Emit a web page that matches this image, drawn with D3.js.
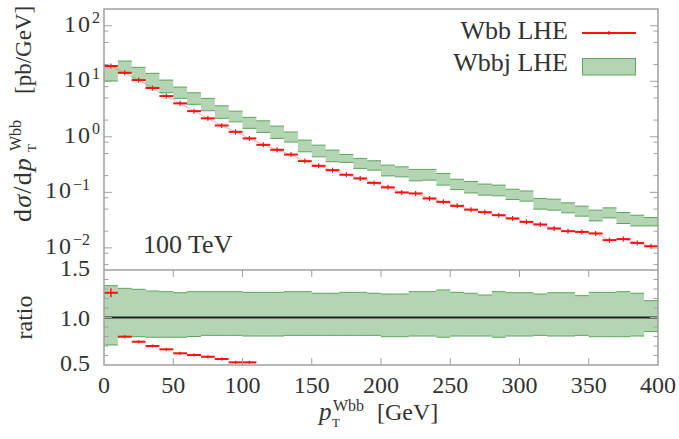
<!DOCTYPE html>
<html>
<head>
<meta charset="utf-8">
<script src="https://cdn.jsdelivr.net/npm/d3@7"></script>
<style>
  body { margin: 0; background: #fff; }
  text { font-family: "Liberation Serif", "DejaVu Serif", "Times New Roman", Times, serif; fill: #333; }
</style>
</head>
<body>
<svg id="chart" width="679" height="439"></svg>
<script>
// bins of 10 GeV (lower edge)
const binLow = [0, 10, 20, 30, 40, 50, 60, 70, 80, 90, 100, 110, 120, 130, 140, 150, 160, 170, 180, 190,
  200, 210, 220, 230, 240, 250, 260, 270, 280, 290, 300, 310, 320, 330, 340, 350, 360, 370, 380, 390];
const binWidth = 10;

// Wbb LHE, dsigma/dpT [pb/GeV]
const wbb = [18.8, 14.2, 10.5, 7.54, 5.41, 4.0, 2.90, 2.15, 1.60, 1.23, 0.936, 0.717, 0.583, 0.478,
  0.365, 0.300, 0.251, 0.207, 0.178, 0.148, 0.123, 0.0996, 0.0955, 0.0776, 0.0674, 0.0571, 0.0488,
  0.0440, 0.0388, 0.0339, 0.0294, 0.0264, 0.0224, 0.0200, 0.0194, 0.0182, 0.0138, 0.0144, 0.0123, 0.0107];

// Wbbj LHE band (upper / lower edge)
const wbbjUp = [19.2, 23.1, 17.8, 13.9, 10.5, 7.86, 6.21, 4.92, 3.62, 2.90, 2.24, 1.94, 1.56, 1.22,
  0.872, 0.708, 0.576, 0.482, 0.408, 0.370, 0.309, 0.288, 0.259, 0.259, 0.219, 0.172, 0.157, 0.141,
  0.135, 0.114, 0.106, 0.0776, 0.0754, 0.0647, 0.0564, 0.0478, 0.0526, 0.0434, 0.0388, 0.0353];
const wbbjLo = [10.1, 14.1, 10.5, 7.64, 6.21, 4.92, 3.84, 2.94, 2.15, 1.86, 1.42, 1.20, 0.936, 0.803,
  0.537, 0.436, 0.355, 0.346, 0.270, 0.251, 0.198, 0.190, 0.161, 0.166, 0.135, 0.112, 0.0975, 0.0891,
  0.0865, 0.0745, 0.0694, 0.0498, 0.0478, 0.0428, 0.0373, 0.0306, 0.0347, 0.0275, 0.0249, 0.0249];

// ratio panel: Wbbj band relative to its central value
const ratioUp = [1.335, 1.307, 1.297, 1.279, 1.272, 1.261, 1.272, 1.272, 1.272, 1.272, 1.265, 1.265,
  1.265, 1.272, 1.272, 1.255, 1.255, 1.265, 1.265, 1.255, 1.247, 1.247, 1.272, 1.272, 1.290, 1.265,
  1.255, 1.237, 1.272, 1.261, 1.261, 1.247, 1.261, 1.261, 1.230, 1.265, 1.265, 1.272, 1.255, 1.177];
const ratioLo = [0.711, 0.798, 0.798, 0.792, 0.792, 0.792, 0.800, 0.812, 0.812, 0.812, 0.805, 0.805,
  0.805, 0.812, 0.812, 0.812, 0.812, 0.812, 0.812, 0.812, 0.798, 0.798, 0.805, 0.805, 0.792, 0.805,
  0.805, 0.805, 0.792, 0.805, 0.805, 0.812, 0.805, 0.805, 0.812, 0.798, 0.798, 0.798, 0.805, 0.851];
// Wbb / Wbbj (only bins inside the panel range)
const ratioWbb = [1.26, 0.798, 0.745, 0.700, 0.665, 0.623, 0.605, 0.587, 0.563, 0.528, 0.528];
const ratioWbbErr = [0.047, 0.016, 0.016, 0.016, 0.016, 0.016, 0.016, 0.016, 0.016, 0.016, 0.016];

const xTicks = [0, 50, 100, 150, 200, 250, 300, 350, 400];
const yMajor = [1e-2, 1e-1, 1, 10, 100];
const yExp = ["\u22122", "\u22121", "0", "1", "2"];
const ratioTicks = [0.5, 1.0, 1.5];
const ratioTickLabels = ["0.5", "1.0", "1.5"];

const RED = "#ff1010";
const FILL = "#b3d5b3";
const EDGE = "#5ea45e";
const FRAME = "#a0a0a0";

const m = { left: 104, right: 658, top: 9, split: 270, bottom: 365 };

const svg = d3.select("#chart");

const x = d3.scaleLinear().domain([0, 400]).range([m.left, m.right]);
const y = d3.scaleLog().domain([4e-3, 200]).range([m.split, m.top]);
const yr = d3.scaleLinear().domain([0.5, 1.5]).range([m.bottom, m.split]);

const bins = binLow.map((lo, i) => ({ lo, hi: lo + binWidth, i }));
// extra closing point so step paths reach the last bin's upper edge
const stepPts = bins.concat([{ lo: binLow[binLow.length - 1] + binWidth, i: bins.length - 1 }]);

const defs = svg.append("defs");
defs.append("clipPath").attr("id", "clipMain").append("rect")
  .attr("x", m.left).attr("y", m.top).attr("width", m.right - m.left).attr("height", m.split - m.top);
defs.append("clipPath").attr("id", "clipRatio").append("rect")
  .attr("x", m.left).attr("y", m.split).attr("width", m.right - m.left).attr("height", m.bottom - m.split);

function band(g, scale, up, lo) {
  g.append("path")
    .datum(stepPts)
    .attr("fill", FILL)
    .attr("d", d3.area().curve(d3.curveStepAfter)
      .x(d => x(d.lo)).y0(d => scale(lo[d.i])).y1(d => scale(up[d.i])));
  const e = g.append("g").attr("stroke", EDGE).attr("stroke-width", 1);
  [up, lo].forEach(arr => {
    e.append("g").selectAll("line")
      .data(bins)
      .join("line")
      .attr("x1", d => x(d.lo)).attr("x2", d => x(d.hi))
      .attr("y1", d => scale(arr[d.i])).attr("y2", d => scale(arr[d.i]));
  });
}

// ---------- main panel ----------
const main = svg.append("g").attr("clip-path", "url(#clipMain)");
band(main, y, wbbjUp, wbbjLo);

// faint line through the Wbb points
main.append("path")
  .datum(bins)
  .attr("fill", "none")
  .attr("stroke", RED)
  .attr("stroke-opacity", 0.35)
  .attr("stroke-width", 1)
  .attr("d", d3.line().x(d => x(d.lo + binWidth / 2)).y(d => y(wbb[d.i])));

const redMain = main.append("g").attr("stroke", RED);
redMain.selectAll("line.h")
  .data(bins)
  .join("line")
  .attr("class", "h")
  .attr("stroke-width", 2)
  .attr("x1", d => x(d.lo)).attr("x2", d => x(d.hi))
  .attr("y1", d => y(wbb[d.i])).attr("y2", d => y(wbb[d.i]));
redMain.selectAll("line.v")
  .data(bins)
  .join("line")
  .attr("class", "v")
  .attr("stroke-width", 1.2)
  .attr("x1", d => x(d.lo + binWidth / 2)).attr("x2", d => x(d.lo + binWidth / 2))
  .attr("y1", d => y(wbb[d.i]) - 2.5).attr("y2", d => y(wbb[d.i]) + 2.5);

// ---------- ratio panel ----------
const ratio = svg.append("g").attr("clip-path", "url(#clipRatio)");
band(ratio, yr, ratioUp, ratioLo);

ratio.append("line")
  .attr("x1", x(0)).attr("x2", x(400))
  .attr("y1", yr(1)).attr("y2", yr(1))
  .attr("stroke", "#222").attr("stroke-width", 1.8);

const rBins = bins.slice(0, ratioWbb.length);
const redRatio = ratio.append("g").attr("stroke", RED);
redRatio.selectAll("line.h")
  .data(rBins)
  .join("line")
  .attr("class", "h")
  .attr("stroke-width", 2)
  .attr("x1", d => x(d.lo)).attr("x2", d => x(d.hi))
  .attr("y1", d => yr(ratioWbb[d.i])).attr("y2", d => yr(ratioWbb[d.i]));
redRatio.selectAll("line.v")
  .data(rBins)
  .join("line")
  .attr("class", "v")
  .attr("stroke-width", 1.4)
  .attr("x1", d => x(d.lo + binWidth / 2)).attr("x2", d => x(d.lo + binWidth / 2))
  .attr("y1", d => yr(ratioWbb[d.i] + ratioWbbErr[d.i]))
  .attr("y2", d => yr(ratioWbb[d.i] - ratioWbbErr[d.i]));

// ---------- frames and ticks ----------
const axes = svg.append("g").attr("stroke", FRAME).attr("fill", "none");
axes.append("rect")
  .attr("x", m.left).attr("y", m.top)
  .attr("width", m.right - m.left).attr("height", m.bottom - m.top)
  .attr("stroke-width", 1.5);
axes.append("line")
  .attr("x1", m.left).attr("x2", m.right).attr("y1", m.split).attr("y2", m.split)
  .attr("stroke-width", 1.5);

// log minor ticks at 2, 5, 8 x 10^k
const yMinor = y.ticks().filter(v => {
  const lead = Math.round(v / Math.pow(10, Math.floor(Math.log10(v) + 1e-9)));
  return lead === 2 || lead === 5 || lead === 8;
}).filter(v => y(v) > m.top + 1 && y(v) < m.split - 1);

function yTickMarks(g, scale, values, len) {
  values.forEach(v => {
    g.append("line").attr("x1", m.left).attr("x2", m.left + len)
      .attr("y1", scale(v)).attr("y2", scale(v));
    g.append("line").attr("x1", m.right).attr("x2", m.right - len)
      .attr("y1", scale(v)).attr("y2", scale(v));
  });
}
const tickG = axes.append("g").attr("stroke-width", 1);
yTickMarks(tickG, y, yMajor, 8);
yTickMarks(tickG, y, yMinor, 4.5);
yTickMarks(tickG, yr, ratioTicks.filter(v => v > 0.5 && v < 1.5), 8);
yTickMarks(tickG, yr, d3.range(6, 15).map(v => v / 10).filter(v => v !== 1), 4.5);

xTicks.slice(1, -1).forEach(v => {
  tickG.append("line").attr("x1", x(v)).attr("x2", x(v)).attr("y1", m.bottom).attr("y2", m.bottom - 7);
  tickG.append("line").attr("x1", x(v)).attr("x2", x(v)).attr("y1", m.split).attr("y2", m.split + 7);
});

// ---------- tick labels ----------
const yl = svg.append("g");
yMajor.forEach((v, i) => {
  const neg = yExp[i].startsWith("\u2212");
  const t = yl.append("text")
    .attr("x", neg ? 90 : 100).attr("y", y(v) + 6)
    .attr("text-anchor", "end")
    .attr("font-size", 24);
  t.append("tspan").attr("letter-spacing", 2).text("10");
  t.append("tspan").attr("font-size", 16).attr("dy", -8.5).text(yExp[i]);
});
ratioTicks.forEach((v, i) => {
  yl.append("text")
    .attr("x", 90).attr("y", yr(v) + 8 - (v === 1.5 ? 2 : v === 0.5 ? 2 : 0))
    .attr("text-anchor", "end")
    .attr("font-size", 24)
    .text(ratioTickLabels[i]);
});
xTicks.forEach(v => {
  yl.append("text")
    .attr("x", x(v)).attr("y", 393)
    .attr("text-anchor", "middle")
    .attr("font-size", 24)
    .text(v);
});

// ---------- axis titles ----------
const xt = svg.append("g");
xt.append("text").attr("x", 319).attr("y", 420).attr("font-size", 25)
  .attr("font-style", "italic").text("p");
xt.append("text").attr("x", 333).attr("y", 411).attr("font-size", 16).text("Wbb");
xt.append("text").attr("x", 332).attr("y", 427).attr("font-size", 13).text("T");
xt.append("text").attr("x", 377).attr("y", 420).attr("font-size", 24).text("[GeV]");

const yt = svg.append("g").attr("transform", "translate(31,224) rotate(-90)");
const dt = yt.append("text").attr("x", 2).attr("y", 0).attr("font-size", 26)
  .attr("letter-spacing", 1.2);
dt.append("tspan").text("d");
dt.append("tspan").attr("font-style", "italic").text("\u03c3");
dt.append("tspan").text("/d");
dt.append("tspan").attr("font-style", "italic").text("p");
yt.append("text").attr("x", 73).attr("y", -10).attr("font-size", 16).text("Wbb");
yt.append("text").attr("x", 72).attr("y", 5).attr("font-size", 13).text("T");
yt.append("text").attr("x", 130).attr("y", 0).attr("font-size", 23).text("[pb/GeV]");

svg.append("text")
  .attr("transform", `translate(32,${yr(1)}) rotate(-90)`)
  .attr("text-anchor", "middle")
  .attr("font-size", 24)
  .text("ratio");

svg.append("text").attr("x", 143).attr("y", 253).attr("font-size", 26)
  .text("100 TeV");

// ---------- legend ----------
const legend = svg.append("g");
legend.append("text").attr("x", 568).attr("y", 38.5).attr("text-anchor", "end")
  .attr("font-size", 26).text("Wbb LHE");
legend.append("line").attr("x1", 582).attr("x2", 636).attr("y1", 33).attr("y2", 33)
  .attr("stroke", RED).attr("stroke-width", 2);
legend.append("line").attr("x1", 609).attr("x2", 609).attr("y1", 31).attr("y2", 35)
  .attr("stroke", RED).attr("stroke-width", 1.2);
legend.append("text").attr("x", 568).attr("y", 71).attr("text-anchor", "end")
  .attr("font-size", 26).text("Wbbj LHE");
legend.append("rect").attr("x", 582.5).attr("y", 58.5).attr("width", 53).attr("height", 16.5)
  .attr("fill", FILL).attr("stroke", EDGE).attr("stroke-width", 1);
</script>
</body>
</html>
